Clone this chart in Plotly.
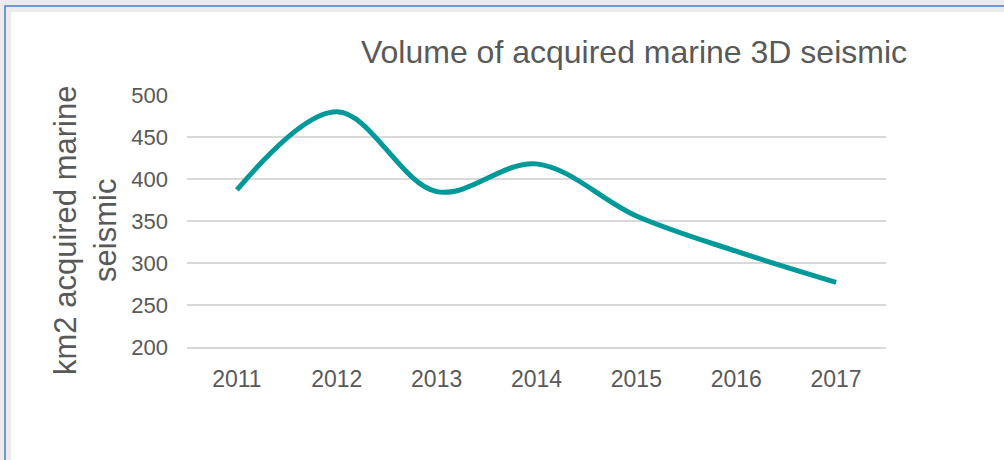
import plotly.graph_objects as go

# Acquired marine 3D seismic volume per year
years = ["2011", "2012", "2013", "2014", "2015", "2016", "2017"]
km2_acquired = [387, 480, 385, 418, 356, 314, 277]
y_ticks = [200, 250, 300, 350, 400, 450, 500]

W, H = 1004, 460
L, R, T, B = 187, 118, 95, 113
pw, ph = W - L - R, H - T - B


def px_x(p):
    return (p - L) / pw


def px_y(p):
    return (H - B - p) / ph


fig = go.Figure()
fig.add_trace(go.Scatter(
    x=years, y=km2_acquired, mode="lines",
    line=dict(color="#00999A", width=5, shape="spline", smoothing=1.0),
    hoverinfo="x+y", showlegend=False,
))

font_main = "Liberation Sans, Arial, sans-serif"
text_col = "#595959"

fig.update_layout(
    width=W, height=H,
    margin=dict(l=L, r=R, t=T, b=B),
    paper_bgcolor="white", plot_bgcolor="white",
    font=dict(family=font_main, color=text_col),
    xaxis=dict(
        type="category", range=[-0.5, 6.5],
        showgrid=False, showline=True, linecolor="#D9D9D9", linewidth=1.5,
        ticks="", tickfont=dict(size=23, color=text_col),
        ticklabelstandoff=11, zeroline=False,
    ),
    yaxis=dict(
        range=[200, 500], tickvals=y_ticks,
        showgrid=True, gridcolor="#D9D9D9", gridwidth=1.5,
        showline=False, zeroline=False, ticks="",
        tickfont=dict(size=22, color=text_col), ticklabelstandoff=18,
    ),
    title=dict(
        text="Volume of acquired marine 3D seismic",
        font=dict(size=32, color=text_col, family=font_main),
        x=634 / W, xanchor="center", xref="container",
        y=1 - 52 / H, yanchor="middle", yref="container",
    ),
    annotations=[dict(
        text="km2 acquired marine<br>seismic",
        xref="paper", yref="paper",
        x=px_x(85), y=px_y(231), xanchor="center", yanchor="middle",
        textangle=-90, showarrow=False,
        font=dict(size=31, color=text_col, family=font_main),
    )],
    shapes=[
        # soft shadow around the chart frame
        dict(type="rect", xref="paper", yref="paper",
             x0=px_x(5), x1=px_x(1030), y0=px_y(490), y1=px_y(6),
             line=dict(color="#EBEBEB", width=12), layer="below"),
        # frame border
        dict(type="rect", xref="paper", yref="paper",
             x0=px_x(5), x1=px_x(1030), y0=px_y(490), y1=px_y(6),
             line=dict(color="#4A7EC9", width=1.5), layer="below"),
    ],
)

fig.write_html("out.html")
